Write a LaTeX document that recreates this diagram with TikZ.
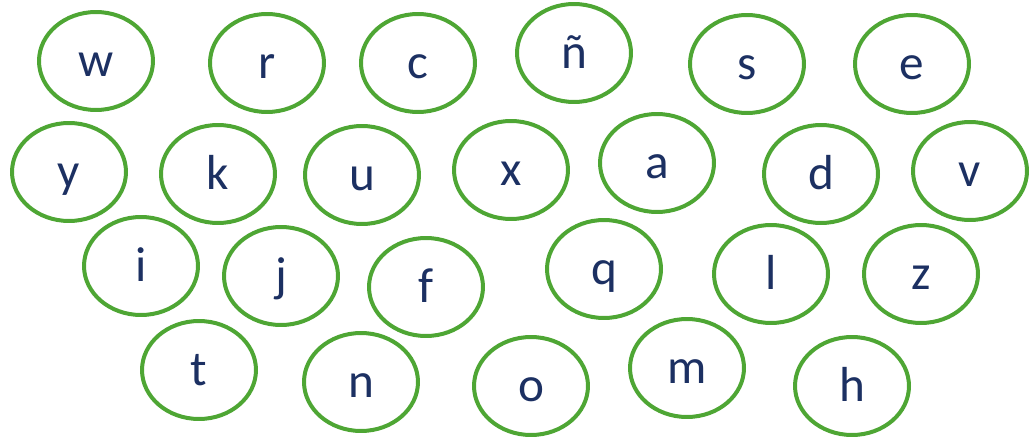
\documentclass[tikz,border=0pt]{standalone}
\usepackage{fontspec}
\setmainfont{Carlito}
\usepackage{xcolor}
\usepackage{tikz}
\usetikzlibrary{shapes.geometric}

\definecolor{ringgreen}{RGB}{78,166,52}
\definecolor{inknavy}{RGB}{28,48,98}

\begin{document}
\begin{tikzpicture}[
        x=0.02cm, y=-0.02cm,
        letter/.style={draw=ringgreen, ellipse, line width=0.08cm, inner sep=0pt,
          minimum width=2.28cm, minimum height=1.96cm,
          text=inknavy, font=\fontsize{28}{31}\selectfont,
          text height=18pt, text depth=0pt}
      ]
      \useasboundingbox (0,0) rectangle (1031,439);
      % first row
      \node[letter] (w)    at (96,61)   {w};
      \node[letter] (r)    at (267,63)  {r};
      \node[letter] (c)    at (418,63)  {c};
      \node[letter] (enye) at (574,53)  {ñ};
      \node[letter] (s)    at (747,64)  {s};
      \node[letter] (e)    at (912,64)  {e};
      % second row
      \node[letter] (y)    at (69,172)  {y};
      \node[letter] (k)    at (218,174) {k};
      \node[letter] (u)    at (362,175) {u};
      \node[letter] (x)    at (511,170) {x};
      \node[letter] (a)    at (657,163) {a};
      \node[letter] (d)    at (821,174) {d};
      \node[letter] (v)    at (970,171) {v};
      % third row
      \node[letter] (i)    at (141,266) {i};
      \node[letter] (j)    at (281,276) {j};
      \node[letter] (f)    at (426,287) {f};
      \node[letter] (q)    at (604,269) {q};
      \node[letter] (l)    at (771,274) {l};
      \node[letter] (z)    at (921,274) {z};
      % fourth row
      \node[letter] (t)    at (199,370) {t};
      \node[letter] (n)    at (361,382) {n};
      \node[letter] (o)    at (531,386) {o};
      \node[letter] (m)    at (687,368) {m};
      \node[letter] (h)    at (852,386) {h};
    \end{tikzpicture}
\end{document}
